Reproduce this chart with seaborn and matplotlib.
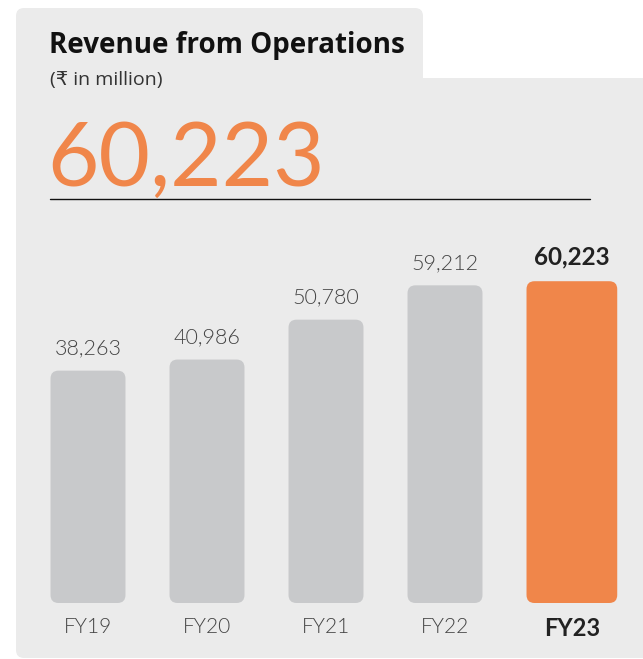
import matplotlib
matplotlib.use("Agg")
import matplotlib.pyplot as plt
import seaborn as sns
from matplotlib.patches import FancyBboxPatch
from matplotlib.lines import Line2D

years = ["FY19", "FY20", "FY21", "FY22", "FY23"]
revenue = [38263, 40986, 50780, 59212, 60223]
highlight = "FY23"
title = "Revenue from Operations"
subtitle = "(₹ in million)"
headline = "60,223"

ORANGE = "#F0864A"
GREY_BAR = "#C8C9CB"
PANEL = "#EBEBEB"

# the reference bars are drawn from a baseline below zero, not from 0
FLOOR, CEIL = -18800, 72800

W, H = 643, 659

sns.set_theme(style="white")
plt.rcParams["font.family"] = ["Lato", "DejaVu Sans"]

fig = plt.figure(figsize=(W / 100, H / 100), dpi=100)
fig.patch.set_facecolor("white")


def fx(x):
    return x / W


def fy(y):
    return 1 - y / H


# grey card with a tab in the top left
for (x0, y0, x1, y1) in [(16, 78, 660, 658), (16, 8, 423, 120)]:
    fig.add_artist(FancyBboxPatch(
        (fx(x0), fy(y1)), fx(x1) - fx(x0), (y1 - y0) / H,
        boxstyle=f"round,pad=0,rounding_size={8 / W}", mutation_aspect=W / H,
        transform=fig.transFigure, fc=PANEL, ec="none", zorder=0))

fig.text(fx(49), fy(45), title, fontsize=20, weight="bold", color="#111111", va="center",
         family=["Open Sans", "DejaVu Sans"])
fig.text(fx(50), fy(80), subtitle, fontsize=14, color="#333333", va="center",
         family=["Open Sans", "DejaVu Sans"])
fig.text(fx(47), fy(186), headline, fontsize=64, color=ORANGE, va="baseline")
fig.add_artist(Line2D([fx(50), fx(590)], [fy(199), fy(199)], color="#111111", lw=1,
                      transform=fig.transFigure))

ax = fig.add_axes([fx(28.5), fy(603), 595 / W, (603 - 230) / H])
ax.set_facecolor("none")
palette = {y: (ORANGE if y == highlight else GREY_BAR) for y in years}
sns.barplot(x=years, y=revenue, hue=years, palette=palette, legend=False,
            width=0.63, saturation=1, ax=ax)
ax.set_xlim(-0.5, len(years) - 0.5)
ax.set_ylim(FLOOR, CEIL)

px_x = ax.bbox.width / (len(years))
px_y = ax.bbox.height / (CEIL - FLOOR)

centers = []
for i, p in enumerate(list(ax.patches)):
    x0, w, top = p.get_x(), p.get_width(), p.get_height()
    if years[i] == highlight:
        w *= 1.21
    fb = FancyBboxPatch((x0, FLOOR), w, top - FLOOR,
                        boxstyle=f"round,pad=0,rounding_size={8 / px_x}",
                        mutation_aspect=px_x / px_y,
                        fc=p.get_facecolor(), ec="none")
    p.remove()
    ax.add_patch(fb)
    cx = x0 + w / 2
    centers.append(cx)
    bold = years[i] == highlight
    ax.annotate(f"{revenue[i]:,}", (cx, top), xytext=(0, 9), textcoords="offset points",
                ha="center", va="bottom", fontsize=17.5 if bold else 15.5,
                weight="bold" if bold else 300,
                color="#222222" if bold else "#444444")

ax.set_xticks(centers)
ax.set_xticklabels(years)
for lab in ax.get_xticklabels():
    if lab.get_text() == highlight:
        lab.set_fontsize(17)
        lab.set_fontweight("bold")
        lab.set_color("#222222")
    else:
        lab.set_fontsize(15)
        lab.set_fontweight(300)
        lab.set_color("#444444")
ax.tick_params(axis="x", length=0, pad=10)
ax.set_yticks([])
ax.set_xlabel("")
ax.set_ylabel("")
sns.despine(ax=ax, left=True, bottom=True)

fig.savefig("out.png", dpi=100)
